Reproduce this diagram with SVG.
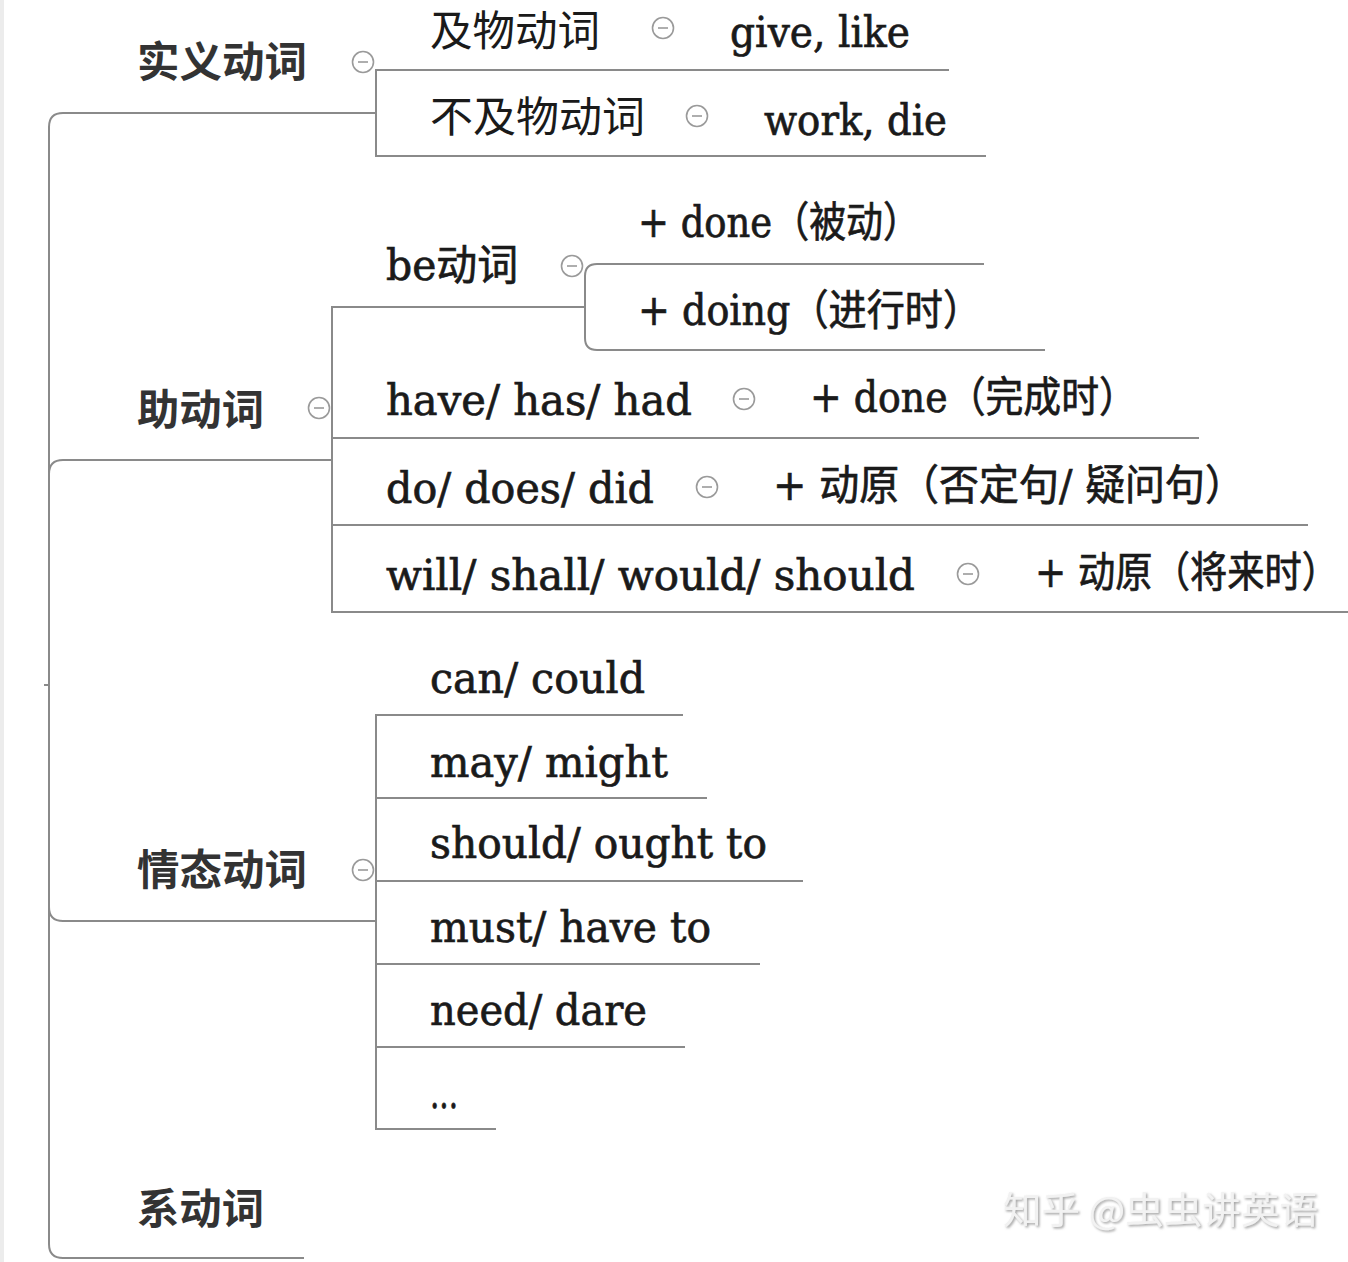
<svg xmlns="http://www.w3.org/2000/svg" width="1348" height="1262" viewBox="0 0 1348 1262">
<style>
.ln{fill:none;stroke:#8a8a8a;stroke-width:2}
.top{font-family:"Noto Sans CJK SC","Noto Sans",sans-serif;font-weight:bold;font-size:42px;fill:#333}
.cn{font-family:"Noto Sans CJK SC","Noto Sans",sans-serif;font-size:42px;fill:#1a1a1a}
.en{font-family:"DejaVu Serif","Noto Sans CJK SC",serif;font-size:42px;fill:#1a1a1a;stroke:#1a1a1a;stroke-width:0.7}
.tc{fill:#fff;stroke:#9a9a9a;stroke-width:1.6}
.tm{stroke:#9a9a9a;stroke-width:1.6}
.wm{font-family:"Noto Sans CJK SC",sans-serif;font-size:37px;fill:#f2f2f2}
</style>
<defs>
<g id="tog"><circle class="tc" cx="0" cy="0" r="10.5"/><line class="tm" x1="-5" y1="0" x2="5" y2="0"/></g>
<filter id="emb" x="-5%" y="-20%" width="110%" height="140%"><feDropShadow dx="1.5" dy="1.5" stdDeviation="0.8" flood-color="#9a9a9a" flood-opacity="0.9"/></filter>
</defs>
<rect x="0" y="0" width="1348" height="1262" fill="#fff"/>
<rect x="0" y="0" width="4" height="1262" fill="#ececec"/>

<g id="connectors">
<path class="ln" d="M44,685 H49"/>
<path class="ln" d="M49,685 V127 Q49,113 63,113 H376"/>
<path class="ln" d="M49,685 V474 Q49,460 63,460 H332"/>
<path class="ln" d="M49,685 V907 Q49,921 63,921 H376"/>
<path class="ln" d="M49,685 V1244 Q49,1258 63,1258 H304"/>
<path class="ln" d="M949,70 H376 V156 H986"/>
<path class="ln" d="M585,307 H332 V612 H1348"/>
<path class="ln" d="M332,438 H1199"/>
<path class="ln" d="M332,525 H1308"/>
<path class="ln" d="M984,264 H597 Q585,264 585,276 V338 Q585,350 597,350 H1045"/>
<path class="ln" d="M683,715 H376 V1129 H496"/>
<path class="ln" d="M376,798 H707"/>
<path class="ln" d="M376,881 H803"/>
<path class="ln" d="M376,964 H760"/>
<path class="ln" d="M376,1047 H685"/>
</g>

<g id="node-shiyi">
<text class="top" x="137" y="77" textLength="170" lengthAdjust="spacingAndGlyphs">实义动词</text>
<use href="#tog" x="363" y="62"/>
</g>
<g id="node-jiwu">
<text class="cn" x="430" y="46" font-size="41" textLength="170" lengthAdjust="spacingAndGlyphs">及物动词</text>
<use href="#tog" x="663" y="28"/>
</g>
<g id="node-givelike"><text class="en" x="730" y="47" textLength="180" lengthAdjust="spacingAndGlyphs">give, like</text></g>
<g id="node-bujiwu">
<text class="cn" x="430" y="132" textLength="215" lengthAdjust="spacingAndGlyphs">不及物动词</text>
<use href="#tog" x="697" y="116"/>
</g>
<g id="node-workdie"><text class="en" x="764" y="135" textLength="183" lengthAdjust="spacingAndGlyphs">work, die</text></g>

<g id="node-zhu">
<text class="top" x="137" y="425" textLength="127" lengthAdjust="spacingAndGlyphs">助动词</text>
<use href="#tog" x="319" y="408"/>
</g>
<g id="node-be">
<text class="en" x="386" y="280" textLength="132" lengthAdjust="spacingAndGlyphs">be动词</text>
<use href="#tog" x="572" y="266"/>
</g>
<g id="node-bedone"><text class="en" x="638" y="237" textLength="282" lengthAdjust="spacingAndGlyphs">+ done（被动）</text></g>
<g id="node-bedoing"><text class="en" x="638" y="325" textLength="343" lengthAdjust="spacingAndGlyphs">+ doing（进行时）</text></g>
<g id="node-have">
<text class="en" x="386" y="415" textLength="306" lengthAdjust="spacingAndGlyphs">have/ has/ had</text>
<use href="#tog" x="744" y="399"/>
</g>
<g id="node-havedone"><text class="en" x="810" y="412" textLength="327" lengthAdjust="spacingAndGlyphs">+ done（完成时）</text></g>
<g id="node-do">
<text class="en" x="386" y="503" textLength="268" lengthAdjust="spacingAndGlyphs">do/ does/ did</text>
<use href="#tog" x="707" y="487"/>
</g>
<g id="node-dodong"><text class="en" x="773" y="500" textLength="472" lengthAdjust="spacingAndGlyphs">+ 动原（否定句/ 疑问句）</text></g>
<g id="node-will">
<text class="en" x="386" y="590" textLength="529" lengthAdjust="spacingAndGlyphs">will/ shall/ would/ should</text>
<use href="#tog" x="968" y="574"/>
</g>
<g id="node-willdong"><text class="en" x="1035" y="587" textLength="304" lengthAdjust="spacingAndGlyphs">+ 动原（将来时）</text></g>

<g id="node-qingtai">
<text class="top" x="137" y="885" textLength="170" lengthAdjust="spacingAndGlyphs">情态动词</text>
<use href="#tog" x="363" y="870"/>
</g>
<g id="node-can"><text class="en" x="430" y="693" textLength="215" lengthAdjust="spacingAndGlyphs">can/ could</text></g>
<g id="node-may"><text class="en" x="430" y="777" textLength="238" lengthAdjust="spacingAndGlyphs">may/ might</text></g>
<g id="node-should"><text class="en" x="430" y="858" textLength="337" lengthAdjust="spacingAndGlyphs">should/ ought to</text></g>
<g id="node-must"><text class="en" x="430" y="942" textLength="281" lengthAdjust="spacingAndGlyphs">must/ have to</text></g>
<g id="node-need"><text class="en" x="430" y="1025" textLength="217" lengthAdjust="spacingAndGlyphs">need/ dare</text></g>
<g id="node-etc"><text class="en" x="430" y="1108" textLength="28" lengthAdjust="spacingAndGlyphs">...</text></g>

<g id="node-xi">
<text class="top" x="137" y="1224" textLength="127" lengthAdjust="spacingAndGlyphs">系动词</text>
</g>

<g id="watermark">
<text class="wm" x="1003" y="1224" textLength="315" lengthAdjust="spacingAndGlyphs" filter="url(#emb)">知乎 @虫虫讲英语</text>
</g>
</svg>
